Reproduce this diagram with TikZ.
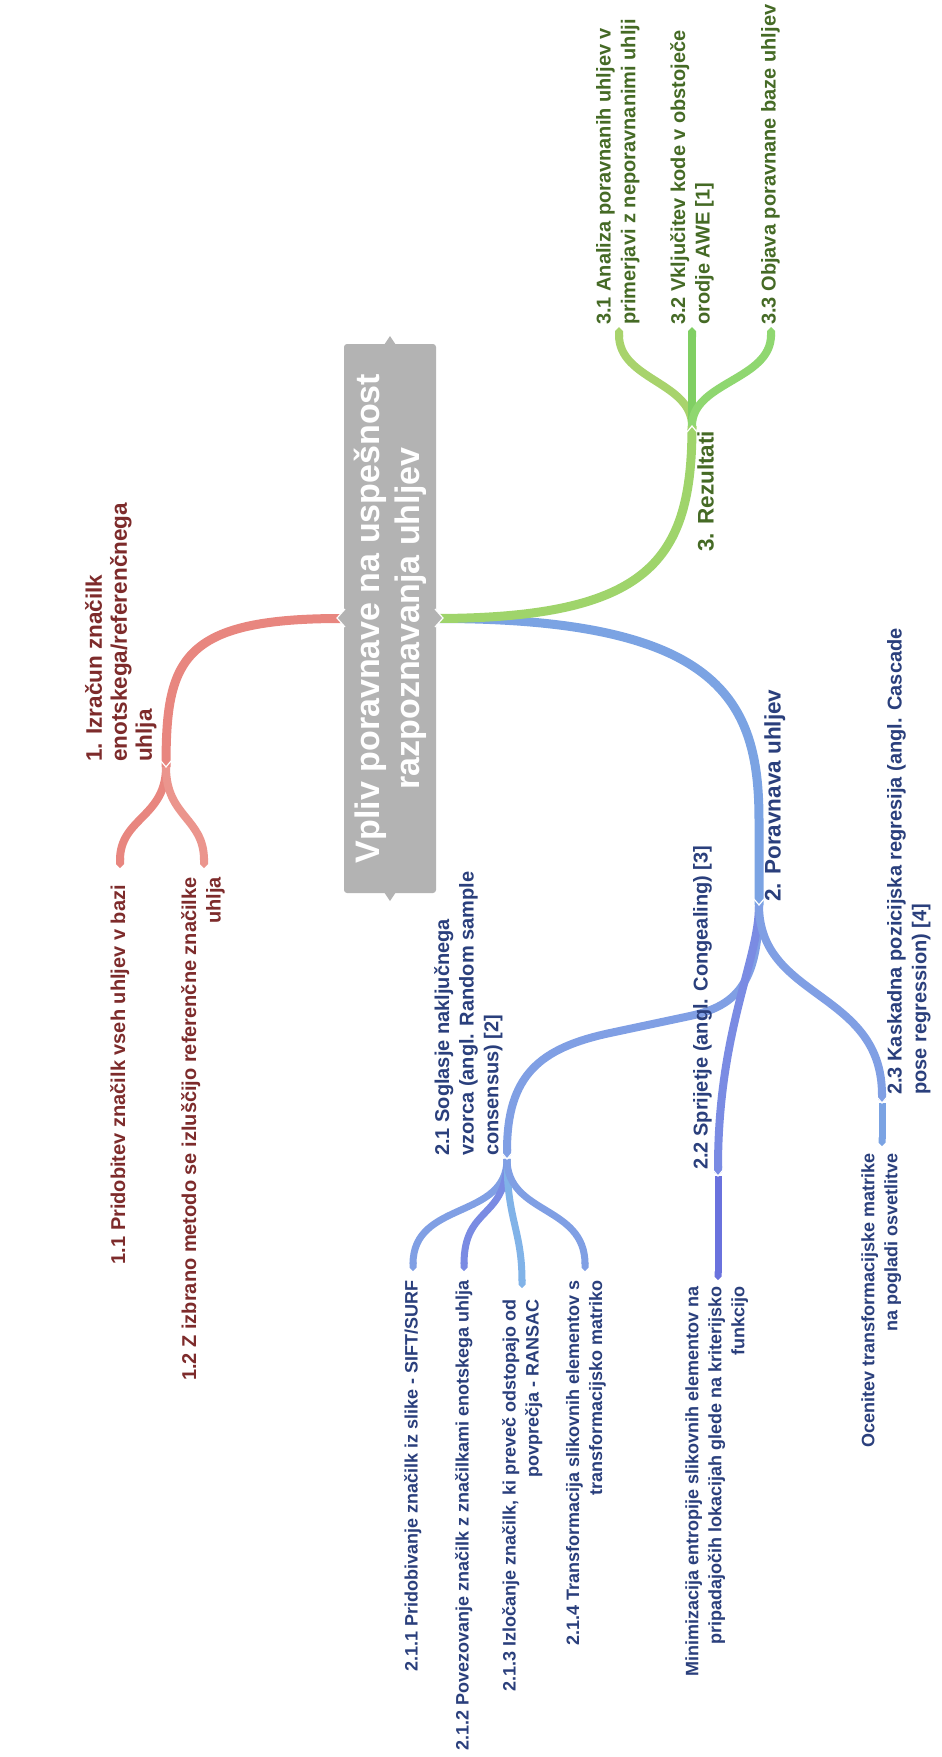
\documentclass[tikz,border=0pt]{standalone}
\usepackage{fontspec}
\setmainfont{Liberation Sans}
\usetikzlibrary{arrows.meta}

\definecolor{rootgray}{HTML}{B3B3B3}
\definecolor{redline}{HTML}{E8867F}
\definecolor{redlineb}{HTML}{EB958D}
\definecolor{redtext}{HTML}{7D2B2B}
\definecolor{greenline}{HTML}{9FD46B}
\definecolor{greenlinea}{HTML}{A8D36C}
\definecolor{greenlineb}{HTML}{80CF63}
\definecolor{greenlinec}{HTML}{8FD770}
\definecolor{greentext}{HTML}{456A25}
\definecolor{blueline}{HTML}{7BA3E3}
\definecolor{bluelinea}{HTML}{809FE4}
\definecolor{bluelineb}{HTML}{7A8BE3}
\definecolor{bluelinec}{HTML}{6A72DD}
\definecolor{bluelined}{HTML}{81B3E8}
\definecolor{bluetext}{HTML}{2A3F7C}

\tikzset{
  txt/.style={rotate=90, inner sep=0pt},
  lvl0/.style={txt, font=\bfseries\fontsize{34}{40}\selectfont, text=white, align=center},
  lvl1/.style={txt, font=\bfseries\fontsize{22.5}{25}\selectfont, align=left, anchor=north west},
  lvl2/.style={txt, font=\bfseries\fontsize{20}{24.6}\selectfont, align=left, anchor=north west},
  lvl2r/.style={lvl2, align=right, anchor=north east},
  lvl3/.style={txt, font=\bfseries\fontsize{18}{23}\selectfont, align=right, anchor=north east},
  branch/.style={line width=9pt},
  twig/.style={line width=8pt, -{Triangle Cap[]}},
  leaf/.style={line width=7pt, -{Triangle Cap[]}},
  chev/.style={white, line width=1.2pt},
}

\begin{document}
\begin{tikzpicture}[x=1pt, y=-1pt]

\useasboundingbox (0,0) rectangle (942,1757);

%%%%%%%%%%%%%%%%%%%%%%%%%%%%%%%%%%%%%%%%%%%%%%%%%%
% Root
%%%%%%%%%%%%%%%%%%%%%%%%%%%%%%%%%%%%%%%%%%%%%%%%%%

\node[lvl0, fill=rootgray, rounded corners=3pt,
      minimum width=549pt, minimum height=92pt] (root) at (390,618.5)
{Vpliv poravnave na uspešnost\\razpoznavanja uhljev};

% Joints
\coordinate (j1) at (166,767);
\coordinate (j2) at (759,905);
\coordinate (j3) at (692,426);
\coordinate (j21) at (507,1159);
\coordinate (j22) at (718,1176);
\coordinate (j23) at (882,1103);

% Ends
\coordinate (e11) at (120,868);
\coordinate (e12) at (204,868);
\coordinate (e31) at (619,327);
\coordinate (e32) at (692,327);
\coordinate (e33) at (771,327);
\coordinate (e211) at (413,1271);
\coordinate (e212) at (464,1271);
\coordinate (e213) at (522,1288);
\coordinate (e214) at (585,1271);
\coordinate (e22) at (718,1280);
\coordinate (e23) at (882,1146);

%%%%%%%%%%%%%%%%%%%%%%%%%%%%%%%%%%%%%%%%%%%%%%%%%%
% Branch 1
%%%%%%%%%%%%%%%%%%%%%%%%%%%%%%%%%%%%%%%%%%%%%%%%%%

\draw[branch, redline]
(root.north) .. controls (180,618) and (166,660) .. (j1);

\draw[twig, redline]
(j1) .. controls (166,817) and (120,818) .. (e11);
\draw[twig, redlineb]
(j1) .. controls (166,817) and (204,818) .. (e12);

\draw[chev] ([shift={(-5,-6)}]j1) -- (j1) -- ([shift={(5,-6)}]j1);

% Labels
\node[lvl1, text=redtext] (n1) at (85,762)
{1. Izračun značilk\\enotskega/referenčnega\\uhlja};
\node[lvl2r, text=redtext] (n11) at (110,885)
{1.1 Pridobitev značilk vseh uhljev v bazi};
\node[lvl2r, text=redtext] (n12) at (181,877)
{1.2 Z izbrano metodo se izluščijo referenčne značilke\\uhlja};

%%%%%%%%%%%%%%%%%%%%%%%%%%%%%%%%%%%%%%%%%%%%%%%%%%
% Branch 2
%%%%%%%%%%%%%%%%%%%%%%%%%%%%%%%%%%%%%%%%%%%%%%%%%%

\draw[branch, blueline]
(root.south) .. controls (720,618) and (759,700) .. (759,820) -- (j2);

\draw[twig, bluelinea]
(j2) .. controls (759,985) and (735,1006) .. (690,1016)
-- (610,1033) .. controls (540,1048) and (507,1075) .. (j21);
\draw[twig, bluelineb]
(j2) .. controls (759,960) and (718,1030) .. (j22);
\draw[twig, bluelinea]
(j2) .. controls (759,1000) and (882,990) .. (j23);

\draw[leaf, bluelinea]
(j21) .. controls (507,1220) and (413,1200) .. (e211);
\draw[leaf, bluelineb]
(j21) .. controls (507,1220) and (464,1205) .. (e212);
\draw[leaf, bluelined]
(j21) .. controls (507,1220) and (522,1230) .. (e213);
\draw[leaf, bluelinea]
(j21) .. controls (507,1215) and (585,1205) .. (e214);
\draw[leaf, bluelinec] (j22) -- (e22);
\draw[leaf, blueline] (j23) -- (e23);

\draw[chev] ([shift={(-5,-6)}]j2) -- (j2) -- ([shift={(5,-6)}]j2);
\draw[chev] ([shift={(-5,-6)}]j21) -- (j21) -- ([shift={(5,-6)}]j21);
\draw[chev] ([shift={(-5,-6)}]j22) -- (j22) -- ([shift={(5,-6)}]j22);
\draw[chev] ([shift={(-5,-6)}]j23) -- (j23) -- ([shift={(5,-6)}]j23);

% Labels
\node[lvl1, text=bluetext] (n2) at (764,902) {2. Poravnava uhljev};
\node[lvl2, text=bluetext] (n21) at (434,1156)
{2.1 Soglasje naključnega\\vzorca (angl. Random sample\\consensus) [2]};
\node[lvl2, text=bluetext] (n22) at (693,1170)
{2.2 Sprijetje (angl. Congealing) [3]};
\node[lvl2, text=bluetext] (n23) at (887,1095)
{2.3 Kaskadna pozicijska regresija (angl. Cascade\\pose regression) [4]};

\node[lvl3, text=bluetext] (n211) at (404,1280)
{2.1.1 Pridobivanje značilk iz slike - SIFT/SURF};
\node[lvl3, text=bluetext] (n212) at (455,1280)
{2.1.2 Povezovanje značilk z značilkami enotskega uhlja};
\node[lvl3, text=bluetext] (n213) at (502,1299)
{2.1.3 Izločanje značilk, ki preveč odstopajo od\\povprečja - RANSAC};
\node[lvl3, text=bluetext] (n214) at (566,1280)
{2.1.4 Transformacija slikovnih elementov s\\transformacijsko matriko};
\node[lvl3, text=bluetext] (n22a) at (685,1286)
{Minimizacija entropije slikovnih elementov na\\pripadajočih lokacijah glede na kriterijsko\\funkcijo};
\node[lvl3, text=bluetext] (n23a) at (861,1153)
{Ocenitev transformacijske matrike\\na pogladi osvetlitve};

%%%%%%%%%%%%%%%%%%%%%%%%%%%%%%%%%%%%%%%%%%%%%%%%%%
% Branch 3
%%%%%%%%%%%%%%%%%%%%%%%%%%%%%%%%%%%%%%%%%%%%%%%%%%

\draw[branch, greenline]
(root.south) .. controls (650,618) and (692,560) .. (j3);

\draw[twig, greenlinea]
(j3) .. controls (692,382) and (619,380) .. (e31);
\draw[twig, greenlineb] (j3) -- (e32);
\draw[twig, greenlinec]
(j3) .. controls (692,382) and (771,380) .. (e33);

\draw[chev] ([shift={(-5,6)}]j3) -- (j3) -- ([shift={(5,6)}]j3);

% Labels
\node[lvl1, text=greentext] (n3) at (697,552) {3. Rezultati};
\node[lvl2, text=greentext] (n31) at (596,325)
{3.1 Analiza poravnanih uhljev v\\primerjavi z neporavnanimi uhlji};
\node[lvl2, text=greentext] (n32) at (670,325)
{3.2 Vključitev kode v obstoječe\\orodje AWE [1]};
\node[lvl2, text=greentext] (n33) at (761,325)
{3.3 Objava poravnane baze uhljev};

%%%%%%%%%%%%%%%%%%%%%%%%%%%%%%%%%%%%%%%%%%%%%%%%%%
% Notches of the root
%%%%%%%%%%%%%%%%%%%%%%%%%%%%%%%%%%%%%%%%%%%%%%%%%%

\fill[rootgray] (384,345) -- (390,336) -- (396,345) -- cycle;
\fill[rootgray] (384,892) -- (390,901) -- (396,892) -- cycle;
\fill[rootgray] (345,609) -- (337,618) -- (345,627) -- cycle;
\draw[chev] (345,609) -- (337,618) -- (345,627);
\fill[rootgray] (435,609) -- (443,618) -- (435,627) -- cycle;
\draw[chev] (435,609) -- (443,618) -- (435,627);

\end{tikzpicture}
\end{document}
